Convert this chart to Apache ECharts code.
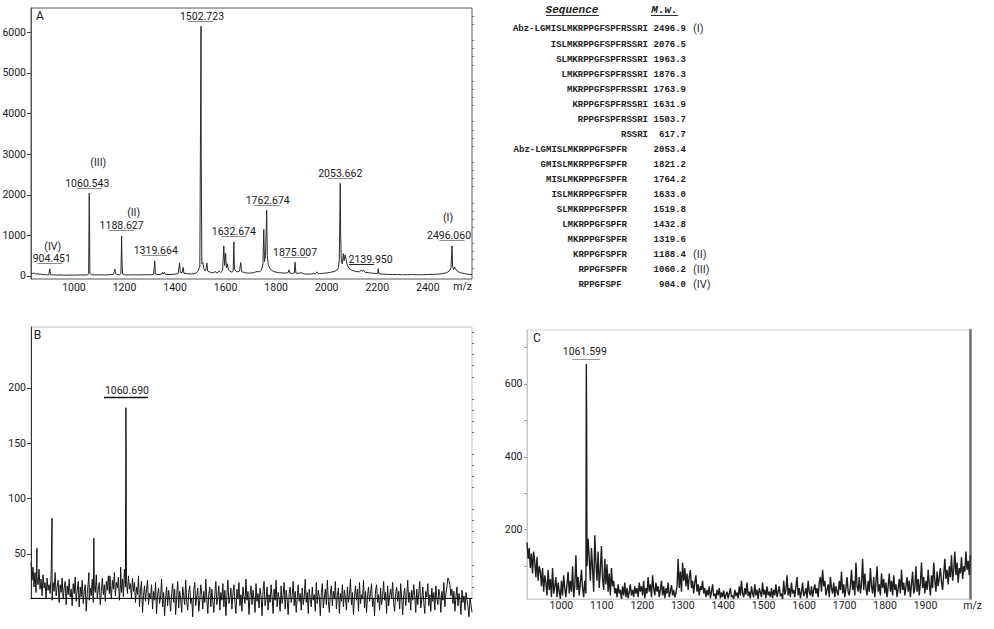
<!DOCTYPE html>
<html><head><meta charset="utf-8">
<script src="https://cdn.jsdelivr.net/npm/echarts@6/dist/echarts.min.js"></script>
<style>html,body{margin:0;padding:0;background:#fff}#c{width:994px;height:629px}</style>
</head><body><div id="c"></div>
<script>
// ---------------- DATA ----------------
// Panel A spectrum: [m/z, intensity]
const specA = [
[830,70],[836,60],[842,75],[848,50],[855,55],[862,40],[870,45],[878,30],[886,35],[894,25],[900,30],[902,40],[904.5,175],[907,35],[912,25],[920,30],[930,20],[945,25],[960,18],[980,22],[1000,20],[1020,25],[1040,22],[1055,30],[1058,60],[1060.5,2040],[1061.5,1380],[1063,60],[1068,30],[1080,25],[1100,28],[1120,24],[1140,30],[1155,35],[1160,110],[1162,170],[1164,60],[1170,35],[1180,30],[1186,60],[1188.6,985],[1190,400],[1192,50],[1200,30],[1220,25],[1240,28],[1260,25],[1280,30],[1300,28],[1315,35],[1319.7,370],[1322,50],[1330,35],[1345,40],[1350,85],[1352,45],[1358,95],[1361,40],[1380,35],[1400,45],[1412,60],[1418,320],[1421,80],[1428,90],[1432,210],[1435,70],[1450,55],[1465,50],[1480,60],[1490,110],[1495,180],[1498,240],[1502.7,6150],[1503.5,2950],[1506,300],[1510,330],[1514,180],[1518,120],[1522,150],[1526,320],[1529,120],[1540,90],[1550,75],[1560,110],[1565,70],[1575,120],[1580,85],[1588,130],[1593,740],[1596,260],[1600,560],[1603,200],[1607,300],[1611,150],[1617,120],[1625,90],[1630,120],[1632.7,840],[1635,160],[1645,100],[1655,120],[1660,330],[1663,110],[1675,80],[1690,70],[1705,75],[1715,90],[1725,110],[1735,100],[1742,160],[1748,300],[1751,1150],[1754,350],[1758,500],[1762.7,1620],[1765,500],[1769,280],[1775,180],[1785,130],[1795,100],[1810,80],[1825,75],[1840,70],[1848,90],[1851,150],[1854,70],[1865,60],[1872,80],[1875,340],[1878,70],[1890,65],[1900,80],[1910,50],[1925,45],[1940,50],[1955,60],[1962,100],[1966,55],[1980,60],[2000,75],[2015,90],[2030,110],[2040,140],[2046,200],[2050,400],[2053.7,2280],[2055,1100],[2058,350],[2062,300],[2066,550],[2069,380],[2073,520],[2077,400],[2082,250],[2090,180],[2100,140],[2115,110],[2130,100],[2138,150],[2141,110],[2146,140],[2152,90],[2165,80],[2180,70],[2195,60],[2202,70],[2204,180],[2206,60],[2220,45],[2240,40],[2260,35],[2280,35],[2300,30],[2320,30],[2340,35],[2360,30],[2380,30],[2400,35],[2420,40],[2440,45],[2460,60],[2475,80],[2485,120],[2492,200],[2496,740],[2498,250],[2502,160],[2506,220],[2510,180],[2516,120],[2525,90],[2535,70],[2545,60],[2555,45],[2565,40],[2575,35]
];
const annAlabel = ['904.451','1060.543','1188.627','1319.664','1502.723','1632.674','1762.674','1875.007','2053.662','2139.950','2496.060'];
const annAmz = [904.451,1060.543,1188.627,1319.664,1502.723,1632.674,1762.674,1875.007,2053.662,2139.950,2496.060];
const annAtag = ['(IV)','(III)','(II)','','','','','','','','(I)'];
const ticksAx = [1000,1200,1400,1600,1800,2000,2200,2400];
const ticksAy = [0,1000,2000,3000,4000,5000,6000];

// Panel B: noise trace sampled evenly between 600 and 2740, plus sharp peaks
const B_RANGE = [600, 2740];
const noiseB = [
42,26,38,20,33,15,29,22,36,18,27,12,31,19,24,10,28,17,22,14,
30,8,24,16,33,12,20,26,6,22,15,28,9,19,25,4,21,13,27,11,
18,3,23,14,29,7,17,25,2,20,11,26,5,16,22,-2,14,24,8,19,
12,27,6,21,15,31,10,18,24,4,16,28,13,22,7,25,17,30,14,21,
9,26,18,33,12,24,19,29,8,22,15,27,11,36,20,26,14,30,18,23,
10,28,16,24,6,20,13,30,2,17,25,-3,12,21,7,18,26,4,14,9,
22,0,16,8,24,-4,13,19,5,11,27,2,15,-6,10,20,3,17,8,-2,
14,23,6,18,-5,11,25,1,16,9,-3,20,12,4,26,7,-1,15,21,5,
10,-7,17,24,3,12,19,-2,8,22,13,0,16,6,27,9,-4,14,20,2,
18,7,-3,13,25,4,11,21,-1,15,8,23,2,17,-6,12,26,5,10,19,
0,14,22,6,-4,18,9,24,3,13,-2,20,11,5,27,8,16,-5,12,21,
4,17,10,-3,23,7,14,1,19,12,-6,16,25,3,9,20,-1,13,6,22,
11,-4,18,8,26,2,15,10,-2,21,5,13,24,0,17,9,-5,14,20,6,
12,25,3,16,-3,10,22,7,14,-1,19,4,11,27,6,15,-4,18,9,2,
20,8,13,-2,24,5,17,11,-6,15,23,1,10,18,4,26,7,-3,14,21,
3,16,9,25,0,12,19,-4,14,7,22,2,17,10,-1,20,6,13,27,4,
15,-5,11,21,8,18,-2,24,5,13,9,26,1,16,-3,12,20,7,14,23,
2,10,-6,17,22,6,13,-1,19,4,11,25,8,15,-4,21,3,12,18,9,
24,5,-2,14,20,7,16,0,23,10,-5,13,19,3,11,26,6,15,-1,17,
8,22,12,-3,18,4,14,25,1,9,20,6,-4,16,11,23,3,13,-2,19,
7,15,-1,21,10,4,18,12,-3,16,8,24,2,14,20,28,26,22,12,18,
5,16,-2,11,20,3,14,8,-5,17,6,12,-1,15,9,2,-7,10,4,-3
];
const peaksB = [[629,55],[702,82],[881,33],[905,64],[983,30],[1035,38],[1060.69,182],[1061.8,138]];
const annBlabel = ['1060.690'];
const annBmz = [1060.69];
const ticksBy = [50,100,150,200];

// Panel C
const C_RANGE = [915, 2011];
const noiseC = [
165,120,150,95,135,80,140,110,70,125,60,100,85,45,95,30,75,55,20,90,
35,65,15,95,25,45,70,15,55,30,10,60,20,75,40,15,50,85,25,60,
30,100,15,45,130,35,70,20,55,90,40,15,60,25,100,175,120,60,150,95,
30,185,110,60,140,40,90,155,65,35,120,50,105,30,80,20,95,45,60,25,
40,15,50,25,35,10,45,20,55,15,40,12,30,50,20,35,15,45,25,40,
15,55,30,45,20,60,12,40,25,70,30,50,15,75,40,20,55,30,45,15,
35,60,20,45,12,40,25,55,15,30,48,20,35,15,25,45,120,40,85,30,
110,60,95,45,80,35,70,90,40,60,25,55,75,30,50,20,45,35,60,25,
40,15,35,20,45,12,30,50,18,25,10,35,20,40,12,28,15,33,10,22,
30,12,25,40,15,20,10,35,18,28,12,45,20,60,25,15,40,22,55,18,
30,12,45,25,15,50,20,35,10,40,28,15,55,22,35,12,45,20,30,15,
40,12,35,20,50,15,30,45,18,25,10,60,22,35,75,20,40,15,55,25,
35,15,45,70,20,40,12,30,55,18,25,40,12,60,30,20,45,15,35,50,
25,40,15,55,70,30,90,45,60,20,35,50,15,70,40,25,55,15,45,30,
20,60,35,85,25,50,15,40,70,30,20,45,90,35,60,20,110,45,30,70,
25,50,120,35,80,40,20,60,30,95,45,25,70,15,55,100,30,50,20,80,
40,65,25,55,15,45,80,30,60,20,75,35,50,15,40,65,25,90,35,55,
20,45,70,30,60,15,50,85,25,40,100,30,65,20,55,110,40,70,25,60,
35,90,50,20,75,40,110,60,30,85,45,70,95,55,35,80,120,65,90,50,
100,70,130,60,90,140,75,110,55,95,80,125,65,100,85,140,90,115,75,130
];
const peaksC = [[1061.599,655],[1062.3,525]];
const annClabel = ['1061.599'];
const annCmz = [1061.599];
const ticksCx = [1000,1100,1200,1300,1400,1500,1600,1700,1800,1900];
const ticksCy = [200,400,600];

// Table
const seqNames = ['Abz-LGMISLMKRPPGFSPFRSSRI','ISLMKRPPGFSPFRSSRI','SLMKRPPGFSPFRSSRI','LMKRPPGFSPFRSSRI','MKRPPGFSPFRSSRI','KRPPGFSPFRSSRI','RPPGFSPFRSSRI','RSSRI','Abz-LGMISLMKRPPGFSPFR','GMISLMKRPPGFSPFR','MISLMKRPPGFSPFR','ISLMKRPPGFSPFR','SLMKRPPGFSPFR','LMKRPPGFSPFR','MKRPPGFSPFR','KRPPGFSPFR','RPPGFSPFR','RPPGFSPF\u00a0'];
const seqMass = ['2496.9','2076.5','1963.3','1876.3','1763.9','1631.9','1503.7','617.7','2053.4','1821.2','1764.2','1633.0','1519.8','1432.8','1319.6','1188.4','1060.2','904.0'];
const seqTag = ['(I)','','','','','','','','','','','','','','','(II)','(III)','(IV)'];

// ---------------- STYLE / LAYOUT ----------------
const FS = (function(){
  const ctx = document.createElement('canvas').getContext('2d');
  const t = '1060.543 m/z ABC';
  ctx.font = '20px monospace'; const a = ctx.measureText(t).width;
  ctx.font = '20px "Liberation Sans Narrow", monospace'; const b = ctx.measureText(t).width;
  return Math.abs(a-b) > 0.5 ? {family:'"Liberation Sans Narrow"', size:12.5} : {family:'Roboto', size:10.5};
})();
const TS = {color:'#1a1a1a', fontSize:FS.size, fontFamily:FS.family};
const plain = v => String(v);
const annAstyle = {dx:[2,-2,0,1,1,0,1,0,0,9,-3], tagDx:[3,9,12,0,0,0,0,0,0,0,-4], tagDy:[-12,-21,-13,0,0,0,0,0,0,0,-18],
  ulGap:5.5, textGap:5.5, ulW:25, ulLW:1, ulColor:i => i===9 ? '#222' : '#8c8c8c'};
const annBstyle = {dx:[1], tagDx:[0], tagDy:[0], ulGap:11, textGap:7, ulW:44, ulLW:1.5, ulColor:() => '#111'};
const annCstyle = {dx:[-1.5], tagDx:[0], tagDy:[0], ulGap:5.3, textGap:7.7, ulW:28, ulLW:1, ulColor:() => '#9a9a9a'};

function merge(noise, range, peaks){
  const step = (range[1]-range[0])/(noise.length-1);
  return noise.map((v,i)=>[range[0]+i*step, v]).concat(peaks).sort((a,b)=>a[0]-b[0]);
}
function peakTop(data, mz){
  let best = null;
  data.forEach(p => { if (Math.abs(p[0]-mz) <= 4 && (!best || p[1] > best[1])) best = p; });
  return best;
}
function txt(text, x, y, extra){
  return Object.assign({text:text, x:x, y:y, fill:'#1a1a1a', textFill:'#1a1a1a', font:FS.size+'px '+FS.family,
    align:'center', verticalAlign:'middle', textAlign:'center', textVerticalAlign:'middle'}, extra||{});
}
function annSeries(xi, yi, data, mzs, labels, tags, st){
  const pts = mzs.map((m,i) => { const p = peakTop(data, m); return [p[0], p[1], i]; });
  return {type:'custom', xAxisIndex:xi, yAxisIndex:yi, clip:false, silent:true, z:10, data:pts,
    itemStyle:{color:'#1a1a1a'},
    renderItem:function(params, api){
      const i = api.value(2);
      const c = api.coord([api.value(0), api.value(1)]);
      const uy = Math.round(c[1]-st.ulGap)+0.5, ty = uy - st.textGap;
      const ch = [
        {type:'line', shape:{x1:c[0]-st.ulW/2, y1:uy, x2:c[0]+st.ulW/2, y2:uy}, style:{stroke:st.ulColor(i), lineWidth:st.ulLW}},
        {type:'text', style:txt(labels[i], c[0]+st.dx[i], ty)}
      ];
      if (tags[i]) ch.push({type:'text', style:txt(tags[i], c[0]+st.tagDx[i], ty+st.tagDy[i])});
      return {type:'group', children:ch};
    }};
}
const range = (a,b,s,skip) => { const r=[]; for(let v=a; v<=b; v+=s) if(!(skip && skip.includes(v))) r.push(v); return r; };

const dataB = merge(noiseB, B_RANGE, peaksB);
const dataC = merge(noiseC, C_RANGE, peaksC);

// table graphics
const rowY = i => i===0 ? 29.3 : 45.3 + 15*(i-1);
const mono = 'bold 9px "Liberation Mono", "DejaVu Sans Mono", monospace';
const tableEls = [];
seqNames.forEach((s,i) => {
  tableEls.push({type:'text', silent:true, style:txt(s, i<8 ? 648 : 627, rowY(i), {font:mono, fill:'#222', textFill:'#222', align:'right', textAlign:'right'})});
  tableEls.push({type:'text', silent:true, style:txt(seqMass[i], 686, rowY(i), {font:mono, fill:'#222', textFill:'#222', align:'right', textAlign:'right'})});
  if (seqTag[i]) tableEls.push({type:'text', silent:true, style:txt(seqTag[i], 693, rowY(i)-0.5, {font:'11px Roboto, sans-serif', fill:'#333', textFill:'#333', align:'left', textAlign:'left'})});
});
const headFont = 'italic bold 11px "Liberation Mono", monospace';
tableEls.push({type:'text', silent:true, style:txt('Sequence', 572, 10, {font:headFont, fill:'#222'})});
tableEls.push({type:'text', silent:true, style:txt('M.w.', 664.5, 10, {font:headFont, fill:'#222'})});
tableEls.push({type:'line', silent:true, shape:{x1:546, y1:15.5, x2:599, y2:15.5}, style:{stroke:'#333', lineWidth:1}});
tableEls.push({type:'line', silent:true, shape:{x1:651, y1:15.5, x2:678, y2:15.5}, style:{stroke:'#333', lineWidth:1}});
// panel letters
tableEls.push({type:'text', silent:true, style:txt('A', 40, 16, {font:'12px '+FS.family})});
tableEls.push({type:'text', silent:true, style:txt('B', 37.5, 334.5, {font:'12px '+FS.family})});
tableEls.push({type:'text', silent:true, style:txt('C', 537, 338, {font:'12px '+FS.family})});

const noSplit = {splitLine:{show:false}};
const option = {
  animation:false,
  backgroundColor:'#fff',
  grid:[
    {left:31, top:8, width:441, height:271, show:true, borderColor:'#555', borderWidth:1, outerBoundsMode:'none'},
    {left:31, top:327, width:441, height:271, show:true, borderColor:'#bdbdbd', borderWidth:1, outerBoundsMode:'none'},
    {left:527, top:330, width:443, height:269, show:true, borderColor:'#cfcfcf', borderWidth:1, outerBoundsMode:'none'}
  ],
  xAxis:[
    Object.assign({gridIndex:0, type:'value', min:830, max:2575, axisLine:{show:false}, axisTick:{show:false},
      axisLabel:{customValues:ticksAx, margin:3, formatter:plain, ...TS},
      name:'m/z', nameLocation:'end', nameGap:0, nameMoveOverlap:false,
      nameTextStyle:{...TS, align:'right', verticalAlign:'top', padding:[5,0,0,0]}}, noSplit),
    Object.assign({gridIndex:1, type:'value', min:B_RANGE[0], max:B_RANGE[1], axisLine:{show:true, lineStyle:{color:'#111', width:1}},
      axisTick:{show:false}, axisLabel:{show:false}}, noSplit),
    Object.assign({gridIndex:2, type:'value', min:C_RANGE[0], max:C_RANGE[1]-1, axisLine:{show:true, lineStyle:{color:'#cfcfcf'}}, axisTick:{show:false},
      axisLabel:{customValues:ticksCx, margin:1, formatter:plain, ...TS},
      name:'m/z', nameLocation:'end', nameGap:12, nameMoveOverlap:false,
      nameTextStyle:{...TS, align:'right', verticalAlign:'top', padding:[1,0,0,0]}}, noSplit)
  ],
  yAxis:[
    Object.assign({gridIndex:0, type:'value', min:-75, max:6600, axisLine:{show:true, lineStyle:{color:'#555'}},
      axisTick:{show:true, customValues:ticksAy, length:4, lineStyle:{color:'#444'}},
      axisLabel:{customValues:ticksAy, margin:5, formatter:plain, ...TS}}, noSplit),
    Object.assign({gridIndex:0, type:'value', min:-75, max:6600, axisLine:{show:false},
      axisTick:{show:true, customValues:range(200,6400,200,ticksAy), length:2, lineStyle:{color:'#777'}},
      axisLabel:{show:false}}, noSplit),
    Object.assign({gridIndex:1, type:'value', min:10, max:255, axisLine:{show:true, lineStyle:{color:'#333'}},
      axisTick:{show:true, customValues:ticksBy, length:4, lineStyle:{color:'#444'}},
      axisLabel:{customValues:ticksBy, margin:5, formatter:plain, ...TS}}, noSplit),
    Object.assign({gridIndex:1, type:'value', min:10, max:255, axisLine:{show:false},
      axisTick:{show:true, customValues:range(20,250,10,ticksBy), length:2, lineStyle:{color:'#777'}},
      axisLabel:{show:false}}, noSplit),
    Object.assign({gridIndex:2, type:'value', min:10, max:748, axisLine:{show:true, lineStyle:{color:'#c4c4c4'}},
      axisTick:{show:true, customValues:range(100,700,100), length:3, lineStyle:{color:'#999'}},
      axisLabel:{customValues:ticksCy, margin:4.5, formatter:plain, ...TS}}, noSplit),
    Object.assign({gridIndex:2, type:'value', position:'right', min:10, max:748, axisLine:{show:true, lineStyle:{color:'#6e6e6e', width:2.5}},
      axisTick:{show:false}, axisLabel:{show:false}}, noSplit)
  ],
  series:[
    {type:'line', xAxisIndex:0, yAxisIndex:0, data:specA, symbol:'none', silent:true, lineStyle:{color:'#2a2a2a', width:1}},
    annSeries(0, 0, specA, annAmz, annAlabel, annAtag, annAstyle),
    {type:'line', xAxisIndex:1, yAxisIndex:2, data:dataB, symbol:'none', silent:true, clip:false, lineStyle:{color:'#151515', width:1}},
    annSeries(1, 2, dataB, annBmz, annBlabel, [''], annBstyle),
    {type:'line', xAxisIndex:2, yAxisIndex:4, data:dataC, symbol:'none', silent:true, lineStyle:{color:'#1e1e1e', width:1.4}},
    annSeries(2, 4, dataC, annCmz, annClabel, [''], annCstyle)
  ],
  graphic:{elements:tableEls}
};
const chart = echarts.init(document.getElementById('c'), null, {renderer:'svg'});
chart.setOption(option);
</script></body></html>
